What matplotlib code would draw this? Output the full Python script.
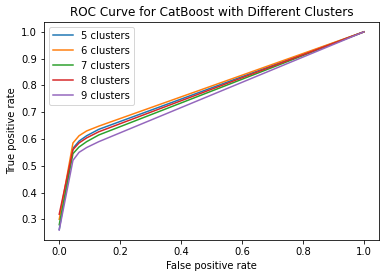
import matplotlib
matplotlib.use('Agg')
import matplotlib.pyplot as plt

# ROC points (fpr, tpr per cluster count)
fpr = [0.0, 0.045, 0.065, 0.09, 0.13, 1.0]
tpr_5 = [0.262, 0.565, 0.592, 0.612, 0.636, 1.0]
tpr_6 = [0.300, 0.585, 0.612, 0.630, 0.648, 1.0]
tpr_7 = [0.280, 0.545, 0.570, 0.590, 0.615, 1.0]
tpr_8 = [0.319, 0.560, 0.585, 0.604, 0.627, 1.0]
tpr_9 = [0.260, 0.520, 0.550, 0.568, 0.590, 1.0]

labels = ['5 clusters', '6 clusters', '7 clusters', '8 clusters', '9 clusters']
curves = [tpr_5, tpr_6, tpr_7, tpr_8, tpr_9]

fig = plt.figure(figsize=(386 / 72, 278 / 72), dpi=72)
ax = fig.add_axes([0.114, 0.137, 0.868, 0.784])

for label, tpr in zip(labels, curves):
    ax.plot(fpr, tpr, label=label)

ax.set_xlabel('False positive rate')
ax.set_ylabel('True positive rate')
ax.set_title('ROC Curve for CatBoost with Different Clusters')
ax.legend(loc='upper left')

fig.savefig('out.png', dpi=72)
